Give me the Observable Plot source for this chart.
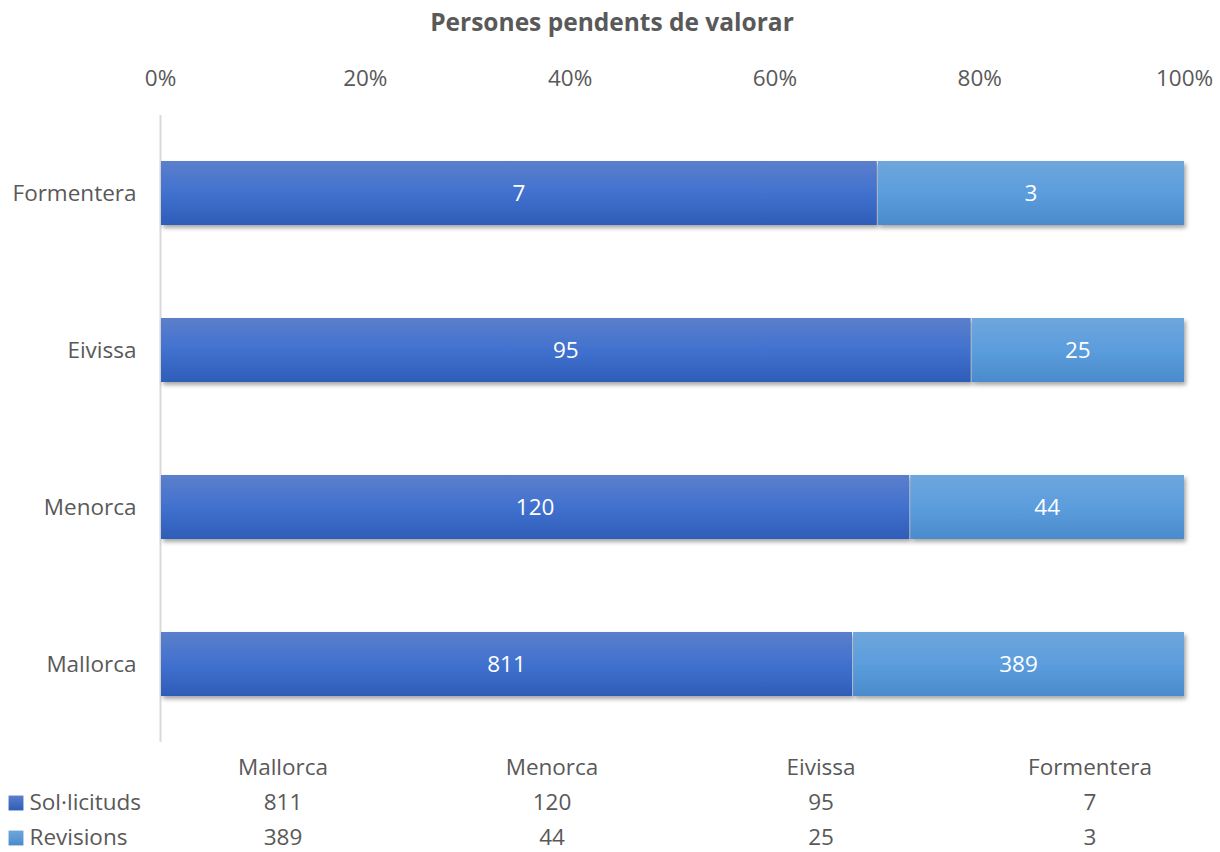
<!DOCTYPE html>
<html>
<head>
<meta charset="utf-8">
<script src="https://cdn.jsdelivr.net/npm/d3@7"></script>
<script src="https://cdn.jsdelivr.net/npm/@observablehq/plot@0.6"></script>
<style>
  body { margin: 0; background: #fff; font-family: "Open Sans", sans-serif; }
  #wrap { position: relative; width: 1220px; height: 852px; }
  #title { position: absolute; top: 5px; left: 0; width: 1224px; text-align: center;
           font-weight: bold; font-size: 24.5px; color: #595959; }
  #chart { position: absolute; top: 0; left: 0; }
  #table { position: absolute; top: 745px; left: 0; }
</style>
</head>
<body>
<div id="wrap">
  <div id="chart"></div>
  <div id="title">Persones pendents de valorar</div>
  <div id="table"></div>
</div>
<script>
const islands = ["Mallorca", "Menorca", "Eivissa", "Formentera"];
const series = ["Sol·licituds", "Revisions"];
const solicituds = [811, 120, 95, 7];
const revisions = [389, 44, 25, 3];
const percentTicks = [0, 0.2, 0.4, 0.6, 0.8, 1];

const rows = [];
islands.forEach((isl, i) => {
  rows.push({island: isl, series: series[0], value: solicituds[i]});
  rows.push({island: isl, series: series[1], value: revisions[i]});
});

const textColor = "#595959";
const FS = 22.5;
const chart = Plot.plot({
  width: 1220,
  height: 745,
  marginTop: 115,
  marginBottom: 3,
  marginLeft: 160,
  marginRight: 36,
  style: {fontFamily: "Open Sans, sans-serif", fontSize: FS + "px", color: textColor, background: "transparent"},
  x: {domain: [0, 1], axis: null, label: null},
  y: {domain: [...islands].reverse(), range: [113.5, 743.5], paddingInner: 0.592, paddingOuter: 0.296, axis: null, label: null},
  color: {domain: series, range: ["url(#gDark)", "url(#gLight)"]},
  marks: [
    Plot.axisX(percentTicks, {anchor: "top", label: null, tickSize: 0, tickPadding: 30, tickFormat: d => Math.round(d * 100) + "%", fill: textColor, fontSize: FS}),
    Plot.axisY({label: null, tickSize: 0, tickPadding: 24, fill: textColor, fontSize: FS}),
    Plot.ruleX([0], {stroke: "#d9d9d9", strokeWidth: 2}),
    Plot.barX(rows, Plot.stackX({x: "value", y: "island", fill: "series", offset: "normalize", order: series, insetLeft: 1})),
    Plot.text(rows, Plot.stackX({x: "value", y: "island", z: "series", text: "value", offset: "normalize", order: series, fill: "white", fontSize: FS}))
  ]
});

// gradients + shadow
const svg = d3.select(chart);
const defs = svg.insert("defs", ":first-child");
function grad(d, id, stops) {
  const g = d.append("linearGradient").attr("id", id).attr("x1", 0).attr("y1", 0).attr("x2", 0).attr("y2", 1);
  stops.forEach(([o, c]) => g.append("stop").attr("offset", o).attr("stop-color", c));
}
grad(defs, "gDark", [[0, "#5b7fcb"], [0.5, "#4171cf"], [1, "#2e5db7"]]);
grad(defs, "gLight", [[0, "#6fa6dc"], [0.5, "#5b9ddd"], [1, "#4a8bcc"]]);
const f = defs.append("filter").attr("id", "shadow").attr("x", "-5%").attr("y", "-20%").attr("width", "110%").attr("height", "150%");
f.append("feDropShadow").attr("dx", 2).attr("dy", 3).attr("stdDeviation", 2).attr("flood-color", "#000").attr("flood-opacity", 0.35);
svg.selectAll("g[aria-label='bar'] rect").attr("filter", "url(#shadow)");
document.getElementById("chart").appendChild(chart);

// data table below
const tableRows = [];
islands.forEach((isl, i) => {
  tableRows.push({island: isl, row: "header", text: isl});
  tableRows.push({island: isl, row: series[0], text: String(solicituds[i])});
  tableRows.push({island: isl, row: series[1], text: String(revisions[i])});
});
const table = Plot.plot({
  width: 1220,
  height: 107,
  margin: 0,
  style: {fontFamily: "Open Sans, sans-serif", fontSize: FS + "px", color: textColor, background: "transparent"},
  x: {type: "band", domain: islands, range: [147.5, 1223.5], padding: 0, axis: null},
  y: {type: "point", domain: ["header", ...series], range: [22, 92.5], padding: 0, axis: null},
  color: {domain: series, range: ["url(#tDark)", "url(#tLight)"]},
  marks: [
    Plot.text(tableRows, {x: "island", y: "row", text: "text", fill: textColor, fontSize: FS}),
    Plot.text(series, {y: d => d, text: d => d, frameAnchor: "left", dx: 29, textAnchor: "start", fill: textColor, fontSize: FS}),
    Plot.dot(series, {y: d => d, frameAnchor: "left", dx: 15.5, dy: 0.5, symbol: "square", r: 8.4, fill: d => d, stroke: null})
  ]
});
const tdefs = d3.select(table).insert("defs", ":first-child");
grad(tdefs, "tDark", [[0, "#5b7fcb"], [1, "#2e5db7"]]);
grad(tdefs, "tLight", [[0, "#6fa6dc"], [1, "#4a8bcc"]]);
document.getElementById("table").appendChild(table);
</script>
</body>
</html>
